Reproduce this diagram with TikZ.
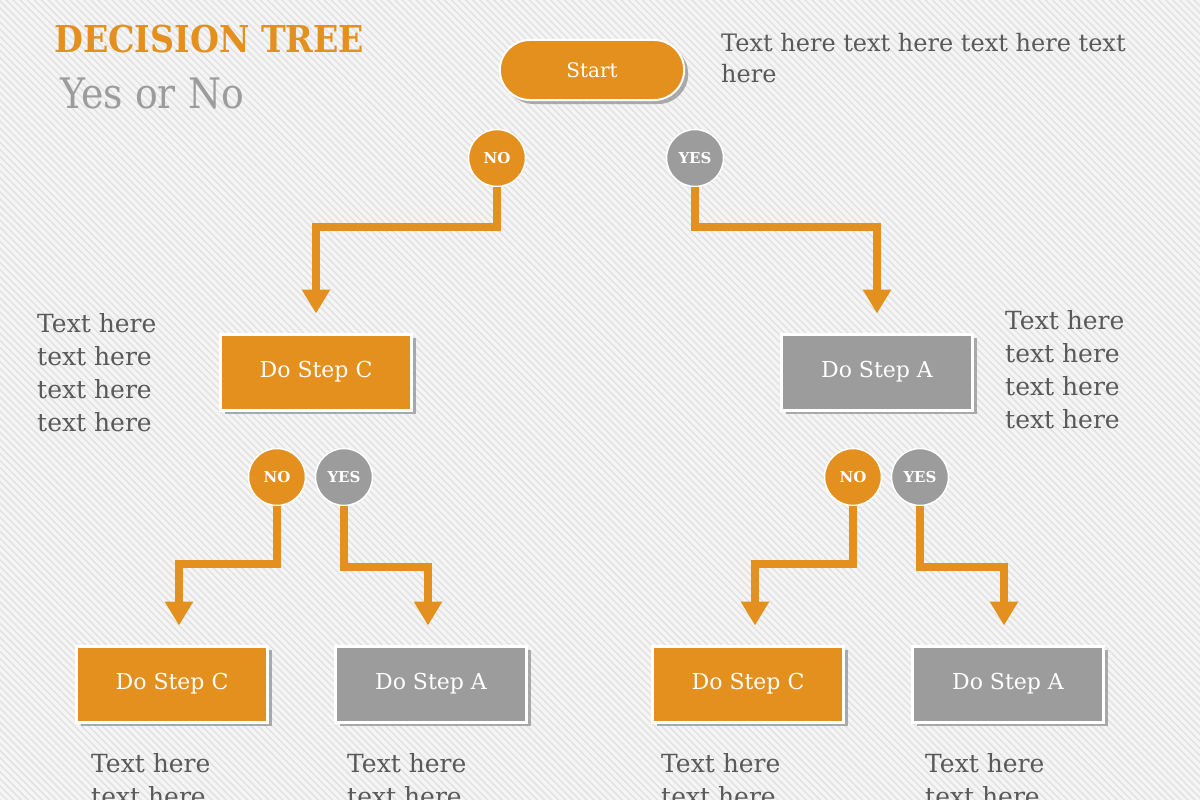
\documentclass[tikz,border=0pt]{standalone}
\usepackage{fontspec}
\setmainfont{DejaVu Serif}
\newfontfamily\condfont{DejaVu Serif Condensed}
\usetikzlibrary{positioning, arrows.meta, shadows, patterns.meta, shapes.misc}
\definecolor{treeorange}{HTML}{E3901F}
\definecolor{treegray}{HTML}{9C9C9C}
\definecolor{notegray}{HTML}{595959}
\definecolor{bgpaper}{HTML}{F5F5F5}
\definecolor{bgstripe}{HTML}{E2E2E2}
\tikzset{
  startbox/.style={rounded rectangle, minimum width=191pt, minimum height=60pt, fill=treeorange, draw=white, line width=2pt, text=white, font=\fontsize{20}{24}\selectfont, drop shadow={shadow xshift=4pt, shadow yshift=-4pt, fill=black!45, opacity=0.7}},
  stepbox/.style={rectangle, minimum width=191pt, minimum height=76pt, draw=white, line width=3pt, text=white, font=\fontsize{22}{26}\selectfont, drop shadow={shadow xshift=4pt, shadow yshift=-4pt, fill=black!45, opacity=0.7}},
  answer/.style={circle, minimum size=57pt, inner sep=0pt, draw=white, line width=1.5pt, text=white, font=\bfseries\fontsize{15}{17}\selectfont},
  link/.style={draw=treeorange, line width=8pt, -{Triangle[width=27pt,length=24pt]}, shorten >=19pt},
  note/.style={anchor=north west, inner sep=0pt, align=left, text=notegray, font=\fontsize{25}{33}\selectfont}
}
\begin{document}
\begin{tikzpicture}[x=1pt, y=-1pt]
  % background
  \fill[bgpaper] (0,0) rectangle (1200,800);
  \fill[pattern={Lines[angle=-45, distance=5pt, line width=1.5pt]}, pattern color=bgstripe] (0,0) rectangle (1200,800);
  \useasboundingbox (0,0) rectangle (1200,800);

  % titles
  \node[anchor=north west, inner sep=0pt, text=treeorange, font=\condfont\bfseries\fontsize{37}{40}\selectfont] (title) at (54,25) {DECISION TREE};
  \node[anchor=north west, inner sep=0pt, text=treegray, font=\condfont\fontsize{42}{48}\selectfont] (subtitle) at (60,78) {Yes or No};

  % tree
  \node[startbox] (start) at (592,70) {Start};
  \node[answer, fill=treeorange] (no1) at (497,158) {NO};
  \node[answer, fill=treegray] (yes1) at (695,158) {YES};
  \node[stepbox, fill=treeorange] (stepC1) at (316,372) {Do Step C};
  \node[stepbox, fill=treegray] (stepA1) at (877,372) {Do Step A};
  \node[answer, fill=treeorange] (no2) at (277,477) {NO};
  \node[answer, fill=treegray] (yes2) at (344,477) {YES};
  \node[answer, fill=treeorange] (no3) at (853,477) {NO};
  \node[answer, fill=treegray] (yes3) at (920,477) {YES};
  \node[stepbox, fill=treeorange] (stepC2) at (172,684) {Do Step C};
  \node[stepbox, fill=treegray] (stepA2) at (431,684) {Do Step A};
  \node[stepbox, fill=treeorange] (stepC3) at (748,684) {Do Step C};
  \node[stepbox, fill=treegray] (stepA3) at (1008,684) {Do Step A};

  \draw[link] (no1.south) -- ++(0,40) -| (stepC1.north);
  \draw[link] (yes1.south) -- ++(0,40) -| (stepA1.north);
  \draw[link] (no2.south) -- ++(0,58) -| ([xshift=7pt]stepC2.north);
  \draw[link] (yes2.south) -- ++(0,61) -| ([xshift=-3pt]stepA2.north);
  \draw[link] (no3.south) -- ++(0,58) -| ([xshift=7pt]stepC3.north);
  \draw[link] (yes3.south) -- ++(0,61) -| ([xshift=-4pt]stepA3.north);

  % notes
  \node[note, font=\fontsize{24}{31}\selectfont] (noteS) at (721,33) {Text here text here text here text\\here};
  \node[note] (noteL) at (37,313) {Text here\\text here\\text here\\text here};
  \node[note] (noteR) at (1005,310) {Text here\\text here\\text here\\text here};
  \node[note] (noteB1) at (91,753) {Text here\\text here};
  \node[note] (noteB2) at (347,753) {Text here\\text here};
  \node[note] (noteB3) at (661,753) {Text here\\text here};
  \node[note] (noteB4) at (925,753) {Text here\\text here};
\end{tikzpicture}
\end{document}
